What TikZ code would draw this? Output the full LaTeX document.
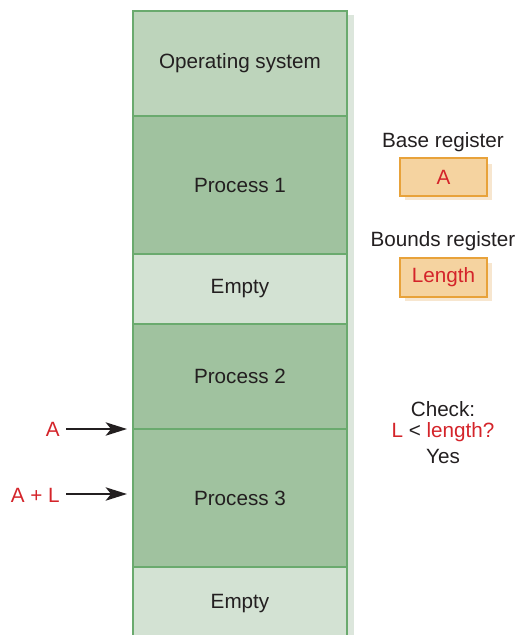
\documentclass[tikz,border=0pt]{standalone}
\usepackage{fontspec}
\setmainfont{Liberation Sans}
\usetikzlibrary{arrows.meta}
\definecolor{osfill}{HTML}{BDD4BB}
\definecolor{procfill}{HTML}{A0C29F}
\definecolor{emptyfill}{HTML}{D3E2D3}
\definecolor{segline}{HTML}{6AAA6E}
\definecolor{shadowc}{HTML}{DCE6DC}
\definecolor{regfill}{HTML}{F5D3A0}
\definecolor{regline}{HTML}{E8A23A}
\definecolor{regshadow}{HTML}{F7E6CF}
\definecolor{redtxt}{HTML}{D4242A}
\definecolor{txt}{HTML}{231F20}
\begin{document}
\begin{tikzpicture}[x=0.75pt,y=-0.75pt,
  every node/.style={font=\fontsize{15.5}{18}\selectfont, text=txt},
  seg/.style={draw=segline, line width=1.5pt, minimum width=160.5pt, inner sep=0pt, anchor=north},
  reg/.style={draw=regline, line width=1.3pt, fill=regfill, minimum width=65pt, minimum height=28pt, inner sep=0pt, text=redtxt},
  lbl/.style={inner sep=0pt},
  arr/.style={-{Stealth[length=16pt,width=10pt,inset=4pt]}, line width=1.4pt, draw=txt}]
\useasboundingbox (0,0) rectangle (518,635);
% column shadow
\fill[shadowc] (347,15) rectangle (354,635);
% memory segments
\node[seg, fill=osfill, minimum height=78.75pt] (os) at (240,10) {Operating system};
\node[seg, fill=procfill, minimum height=103.5pt] (p1) at (240,115) {Process 1};
\node[seg, fill=emptyfill, minimum height=52.5pt] (e1) at (240,253) {Empty};
\node[seg, fill=procfill, minimum height=78.75pt] (p2) at (240,323) {Process 2};
\node[seg, fill=procfill, minimum height=103.5pt] (p3) at (240,428) {Process 3};
\node[seg, fill=emptyfill, minimum height=55pt] (e2) at (240,566) {Empty};
% registers
\node[lbl] (blbl) at (443,142) {Base register};
\fill[regshadow] (405,164) rectangle (492,200);
\node[reg] (breg) at (443.5,177) {A};
\node[lbl] (bdlbl) at (443,241) {Bounds register};
\fill[regshadow] (405,263) rectangle (492,301);
\node[reg, minimum height=29pt] (bdreg) at (443.5,277.5) {Length};
% check
\node[lbl] (chk1) at (443,409) {Check:};
\node[lbl] (chk2) at (443,432) {\textcolor{redtxt}{L} \textless{} \textcolor{redtxt}{length?}};
\node[lbl] (chk3) at (443,456) {Yes};
% arrows
\node[lbl, anchor=east, text=redtxt] (a) at (60,429) {A};
\node[lbl, anchor=east, text=redtxt] (al) at (60,495) {A + L};
\coordinate (sa) at (66,429);
\coordinate (sal) at (66,494);
\coordinate (ta) at (127,429);
\coordinate (tal) at (127,494);
\draw[arr] (sa) -- (ta);
\draw[arr] (sal) -- (tal);
\end{tikzpicture}
\end{document}
